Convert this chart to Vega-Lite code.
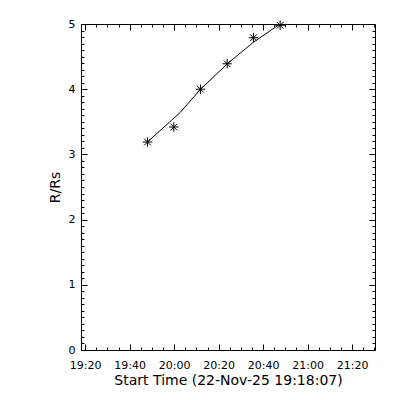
{
  "$schema": "https://vega.github.io/schema/vega-lite/v6.json",
  "width": 294,
  "height": 326,
  "autosize": "none",
  "padding": {"left": 81, "top": 24, "right": 25, "bottom": 50},
  "background": "white",
  "config": {
    "view": {"stroke": null},
    "axis": {
      "grid": false,
      "labelFont": "DejaVu Sans",
      "labelFontSize": 11,
      "labelColor": "black",
      "titleFont": "DejaVu Sans",
      "titleFontSize": 14,
      "titleFontWeight": "normal",
      "titleColor": "black",
      "tickColor": "black",
      "domainColor": "black",
      "tickWidth": 1,
      "domainWidth": 1
    }
  },
  "datasets": {
    "stars": [
      {"time": "2025-11-22T19:48:00", "v": 3.19},
      {"time": "2025-11-22T19:59:50", "v": 3.42},
      {"time": "2025-11-22T20:11:50", "v": 4.00},
      {"time": "2025-11-22T20:23:50", "v": 4.39},
      {"time": "2025-11-22T20:35:40", "v": 4.79},
      {"time": "2025-11-22T20:47:40", "v": 4.98}
    ],
    "fit": [
      {"time": "2025-11-22T19:48:00", "v": 3.19},
      {"time": "2025-11-22T20:02:37", "v": 3.64},
      {"time": "2025-11-22T20:11:55", "v": 4.00},
      {"time": "2025-11-22T20:23:55", "v": 4.39},
      {"time": "2025-11-22T20:35:37", "v": 4.72},
      {"time": "2025-11-22T20:47:40", "v": 5.00}
    ]
  },
  "resolve": {"axis": {"x": "independent", "y": "independent"}},
  "layer": [
    {
      "data": {"name": "fit"},
      "mark": {"type": "line", "color": "black", "strokeWidth": 1, "clip": true},
      "encoding": {
        "x": {
          "field": "time", "type": "temporal",
          "scale": {"domain": [
            {"year": 2025, "month": 11, "date": 22, "hours": 19, "minutes": 18, "seconds": 7},
            {"year": 2025, "month": 11, "date": 22, "hours": 21, "minutes": 30, "seconds": 19}
          ]},
          "axis": {
            "orient": "bottom",
            "format": "%H:%M",
            "values": [
              {"year": 2025, "month": 11, "date": 22, "hours": 19, "minutes": 20},
              {"year": 2025, "month": 11, "date": 22, "hours": 19, "minutes": 40},
              {"year": 2025, "month": 11, "date": 22, "hours": 20, "minutes": 0},
              {"year": 2025, "month": 11, "date": 22, "hours": 20, "minutes": 20},
              {"year": 2025, "month": 11, "date": 22, "hours": 20, "minutes": 40},
              {"year": 2025, "month": 11, "date": 22, "hours": 21, "minutes": 0},
              {"year": 2025, "month": 11, "date": 22, "hours": 21, "minutes": 20}
            ],
            "tickSize": -6,
            "labelPadding": 15,
            "labelFlush": false,
            "labelOverlap": false,
            "title": "Start Time (22-Nov-25 19:18:07)",
            "titlePadding": 3
          }
        },
        "y": {
          "field": "v", "type": "quantitative",
          "scale": {"domain": [0, 5], "nice": false, "zero": false},
          "axis": {
            "orient": "left",
            "values": [0, 1, 2, 3, 4, 5],
            "tickSize": -6,
            "labelPadding": 12,
            "labelFlush": false,
            "labelOverlap": false,
            "title": "R/Rs",
            "titlePadding": 6
          }
        }
      }
    },
    {
      "data": {"name": "stars"},
      "mark": {
        "type": "point",
        "shape": "M-1,0L1,0M0,-1L0,1M-0.7,-0.7L0.7,0.7M-0.7,0.7L0.7,-0.7",
        "filled": false,
        "stroke": "black",
        "strokeWidth": 1,
        "size": 90,
        "opacity": 1
      },
      "encoding": {
        "x": {
          "field": "time", "type": "temporal",
          "axis": {
            "orient": "top",
            "labels": false,
            "title": null,
            "values": [
              {"year": 2025, "month": 11, "date": 22, "hours": 19, "minutes": 20},
              {"year": 2025, "month": 11, "date": 22, "hours": 19, "minutes": 40},
              {"year": 2025, "month": 11, "date": 22, "hours": 20, "minutes": 0},
              {"year": 2025, "month": 11, "date": 22, "hours": 20, "minutes": 20},
              {"year": 2025, "month": 11, "date": 22, "hours": 20, "minutes": 40},
              {"year": 2025, "month": 11, "date": 22, "hours": 21, "minutes": 0},
              {"year": 2025, "month": 11, "date": 22, "hours": 21, "minutes": 20}
            ],
            "tickSize": -6
          }
        },
        "y": {
          "field": "v", "type": "quantitative",
          "axis": {
            "orient": "right",
            "labels": false,
            "title": null,
            "values": [0, 1, 2, 3, 4, 5],
            "tickSize": -6
          }
        }
      }
    },
    {
      "data": {"name": "stars"},
      "mark": {"type": "point", "opacity": 0},
      "encoding": {
        "x": {
          "field": "time", "type": "temporal",
          "axis": {
            "orient": "bottom",
            "labels": false,
            "title": null,
            "domain": false,
            "tickSize": -3,
            "values": [
              {"year": 2025, "month": 11, "date": 22, "hours": 19, "minutes": 20},
              {"year": 2025, "month": 11, "date": 22, "hours": 19, "minutes": 25},
              {"year": 2025, "month": 11, "date": 22, "hours": 19, "minutes": 30},
              {"year": 2025, "month": 11, "date": 22, "hours": 19, "minutes": 35},
              {"year": 2025, "month": 11, "date": 22, "hours": 19, "minutes": 40},
              {"year": 2025, "month": 11, "date": 22, "hours": 19, "minutes": 45},
              {"year": 2025, "month": 11, "date": 22, "hours": 19, "minutes": 50},
              {"year": 2025, "month": 11, "date": 22, "hours": 19, "minutes": 55},
              {"year": 2025, "month": 11, "date": 22, "hours": 20, "minutes": 0},
              {"year": 2025, "month": 11, "date": 22, "hours": 20, "minutes": 5},
              {"year": 2025, "month": 11, "date": 22, "hours": 20, "minutes": 10},
              {"year": 2025, "month": 11, "date": 22, "hours": 20, "minutes": 15},
              {"year": 2025, "month": 11, "date": 22, "hours": 20, "minutes": 20},
              {"year": 2025, "month": 11, "date": 22, "hours": 20, "minutes": 25},
              {"year": 2025, "month": 11, "date": 22, "hours": 20, "minutes": 30},
              {"year": 2025, "month": 11, "date": 22, "hours": 20, "minutes": 35},
              {"year": 2025, "month": 11, "date": 22, "hours": 20, "minutes": 40},
              {"year": 2025, "month": 11, "date": 22, "hours": 20, "minutes": 45},
              {"year": 2025, "month": 11, "date": 22, "hours": 20, "minutes": 50},
              {"year": 2025, "month": 11, "date": 22, "hours": 20, "minutes": 55},
              {"year": 2025, "month": 11, "date": 22, "hours": 21, "minutes": 0},
              {"year": 2025, "month": 11, "date": 22, "hours": 21, "minutes": 5},
              {"year": 2025, "month": 11, "date": 22, "hours": 21, "minutes": 10},
              {"year": 2025, "month": 11, "date": 22, "hours": 21, "minutes": 15},
              {"year": 2025, "month": 11, "date": 22, "hours": 21, "minutes": 20},
              {"year": 2025, "month": 11, "date": 22, "hours": 21, "minutes": 25},
              {"year": 2025, "month": 11, "date": 22, "hours": 21, "minutes": 30}
            ]
          }
        },
        "y": {
          "field": "v", "type": "quantitative",
          "axis": {
            "orient": "left",
            "labels": false,
            "title": null,
            "domain": false,
            "tickSize": -3,
            "values": [0, 0.1, 0.2, 0.3, 0.4, 0.5, 0.6, 0.7, 0.8, 0.9, 1, 1.1, 1.2, 1.3, 1.4, 1.5, 1.6, 1.7, 1.8, 1.9, 2, 2.1, 2.2, 2.3, 2.4, 2.5, 2.6, 2.7, 2.8, 2.9, 3, 3.1, 3.2, 3.3, 3.4, 3.5, 3.6, 3.7, 3.8, 3.9, 4, 4.1, 4.2, 4.3, 4.4, 4.5, 4.6, 4.7, 4.8, 4.9, 5]
          }
        }
      }
    },
    {
      "data": {"name": "stars"},
      "mark": {"type": "point", "opacity": 0},
      "encoding": {
        "x": {
          "field": "time", "type": "temporal",
          "axis": {
            "orient": "top",
            "labels": false,
            "title": null,
            "domain": false,
            "tickSize": -3,
            "values": [
              {"year": 2025, "month": 11, "date": 22, "hours": 19, "minutes": 20},
              {"year": 2025, "month": 11, "date": 22, "hours": 19, "minutes": 25},
              {"year": 2025, "month": 11, "date": 22, "hours": 19, "minutes": 30},
              {"year": 2025, "month": 11, "date": 22, "hours": 19, "minutes": 35},
              {"year": 2025, "month": 11, "date": 22, "hours": 19, "minutes": 40},
              {"year": 2025, "month": 11, "date": 22, "hours": 19, "minutes": 45},
              {"year": 2025, "month": 11, "date": 22, "hours": 19, "minutes": 50},
              {"year": 2025, "month": 11, "date": 22, "hours": 19, "minutes": 55},
              {"year": 2025, "month": 11, "date": 22, "hours": 20, "minutes": 0},
              {"year": 2025, "month": 11, "date": 22, "hours": 20, "minutes": 5},
              {"year": 2025, "month": 11, "date": 22, "hours": 20, "minutes": 10},
              {"year": 2025, "month": 11, "date": 22, "hours": 20, "minutes": 15},
              {"year": 2025, "month": 11, "date": 22, "hours": 20, "minutes": 20},
              {"year": 2025, "month": 11, "date": 22, "hours": 20, "minutes": 25},
              {"year": 2025, "month": 11, "date": 22, "hours": 20, "minutes": 30},
              {"year": 2025, "month": 11, "date": 22, "hours": 20, "minutes": 35},
              {"year": 2025, "month": 11, "date": 22, "hours": 20, "minutes": 40},
              {"year": 2025, "month": 11, "date": 22, "hours": 20, "minutes": 45},
              {"year": 2025, "month": 11, "date": 22, "hours": 20, "minutes": 50},
              {"year": 2025, "month": 11, "date": 22, "hours": 20, "minutes": 55},
              {"year": 2025, "month": 11, "date": 22, "hours": 21, "minutes": 0},
              {"year": 2025, "month": 11, "date": 22, "hours": 21, "minutes": 5},
              {"year": 2025, "month": 11, "date": 22, "hours": 21, "minutes": 10},
              {"year": 2025, "month": 11, "date": 22, "hours": 21, "minutes": 15},
              {"year": 2025, "month": 11, "date": 22, "hours": 21, "minutes": 20},
              {"year": 2025, "month": 11, "date": 22, "hours": 21, "minutes": 25},
              {"year": 2025, "month": 11, "date": 22, "hours": 21, "minutes": 30}
            ]
          }
        },
        "y": {
          "field": "v", "type": "quantitative",
          "axis": {
            "orient": "right",
            "labels": false,
            "title": null,
            "domain": false,
            "tickSize": -3,
            "values": [0, 0.1, 0.2, 0.3, 0.4, 0.5, 0.6, 0.7, 0.8, 0.9, 1, 1.1, 1.2, 1.3, 1.4, 1.5, 1.6, 1.7, 1.8, 1.9, 2, 2.1, 2.2, 2.3, 2.4, 2.5, 2.6, 2.7, 2.8, 2.9, 3, 3.1, 3.2, 3.3, 3.4, 3.5, 3.6, 3.7, 3.8, 3.9, 4, 4.1, 4.2, 4.3, 4.4, 4.5, 4.6, 4.7, 4.8, 4.9, 5]
          }
        }
      }
    }
  ]
}
